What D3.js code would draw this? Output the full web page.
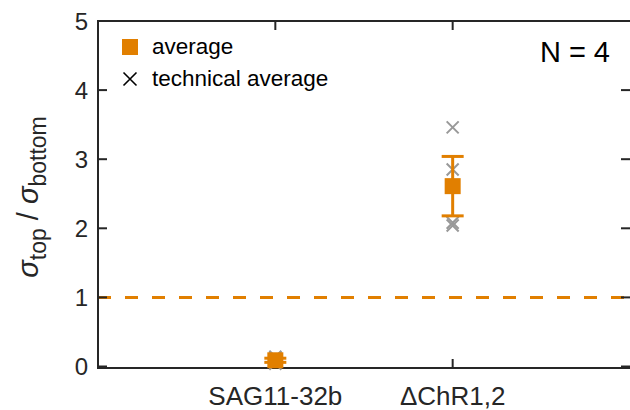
<!DOCTYPE html>
<html lang="en">
<head>
  <meta charset="UTF-8">
  <title>sigma ratio</title>
  <script src="https://d3js.org/d3.v7.min.js"></script>
  <style>
    body { margin: 0; padding: 0; background: #fff; }
    svg { display: block; font-family: Arial, "Liberation Sans", sans-serif; }
  </style>
</head>
<body>
  <div id="chart"></div>
  <script>
    const categories = ["SAG11-32b", "\u0394ChR1,2"];
    const averages = [0.09, 2.61];
    const errors = [0.03, 0.43];
    const technical = [
      [0.14, 0.13, 0.06, 0.04],
      [3.46, 2.85, 2.08, 2.04]
    ];
    const yTicks = [0, 1, 2, 3, 4, 5];
    const reference = 1;
    const orange = "#e17f00";
    const gray = "#999";
    const ink = "#262626";

    const W = 630, H = 410;
    const margin = { top: 21, right: 0, bottom: 42, left: 98 };
    const width = W - margin.left - margin.right;
    const height = H - margin.top - margin.bottom;

    const svg = d3.select("#chart").append("svg")
      .attr("width", W).attr("height", H);
    const g = svg.append("g")
      .attr("transform", `translate(${margin.left},${margin.top})`);

    const x = d3.scaleLinear().domain([0, 3]).range([0, width]);
    const y = d3.scaleLinear().domain([0, 5]).range([height - 1.5, 0]);
    const idx = categories.map((c, i) => i + 1);

    // reference line
    g.append("line")
      .attr("x1", 0).attr("x2", width)
      .attr("y1", y(reference)).attr("y2", y(reference))
      .attr("stroke", orange).attr("stroke-width", 3)
      .attr("stroke-dasharray", "13,14");

    // axes box
    g.append("rect")
      .attr("x", 0).attr("y", 0).attr("width", width + 2).attr("height", height)
      .attr("fill", "none").attr("stroke", ink).attr("stroke-width", 2);

    const tickLen = 9;
    const ticks = g.append("g").attr("stroke", ink).attr("stroke-width", 2);
    yTicks.forEach(t => {
      ticks.append("line").attr("x1", 0).attr("x2", tickLen).attr("y1", y(t)).attr("y2", y(t));
      ticks.append("line").attr("x1", width - tickLen).attr("x2", width).attr("y1", y(t)).attr("y2", y(t));
    });
    idx.forEach(t => {
      ticks.append("line").attr("x1", x(t)).attr("x2", x(t)).attr("y1", height).attr("y2", height - tickLen);
      ticks.append("line").attr("x1", x(t)).attr("x2", x(t)).attr("y1", 0).attr("y2", tickLen);
    });

    // technical averages
    const cross = (sel, s) => sel.append("path")
      .attr("d", `M${-s},${-s}L${s},${s}M${-s},${s}L${s},${-s}`);
    technical.forEach((vals, i) => {
      vals.forEach(v => {
        const p = g.append("g").attr("transform", `translate(${x(idx[i])},${y(v)})`);
        cross(p, 6).attr("stroke", gray).attr("stroke-width", 2).attr("fill", "none");
      });
    });

    // error bars
    averages.forEach((m, i) => {
      const cx = x(idx[i]);
      const e = errors[i];
      const eb = g.append("g").attr("stroke", orange).attr("stroke-width", 3);
      eb.append("line").attr("x1", cx).attr("x2", cx).attr("y1", y(m - e)).attr("y2", y(m + e));
      [m - e, m + e].forEach(v => eb.append("line")
        .attr("x1", cx - 11).attr("x2", cx + 11).attr("y1", y(v)).attr("y2", y(v)));
    });

    // averages
    g.selectAll("rect.avg").data(averages).join("rect")
      .attr("class", "avg")
      .attr("x", (d, i) => x(idx[i]) - 8)
      .attr("y", d => y(d) - 8)
      .attr("width", 16).attr("height", 16)
      .attr("fill", orange);

    g.selectAll("text.ytick").data(yTicks).join("text")
      .attr("class", "ytick")
      .attr("x", -10).attr("y", d => y(d))
      .attr("dy", "0.36em")
      .attr("text-anchor", "end")
      .attr("font-size", 24).attr("fill", ink)
      .text(d => d);

    g.selectAll("text.xtick").data(categories).join("text")
      .attr("class", "xtick")
      .attr("x", (d, i) => x(idx[i])).attr("y", height + 37)
      .attr("text-anchor", "middle")
      .attr("font-size", 26).attr("fill", ink)
      .text(d => d);

    // y label
    const yl = svg.append("text")
      .attr("transform", "translate(38,197) rotate(-90)")
      .attr("text-anchor", "middle")
      .attr("font-size", 29).attr("fill", ink);
    yl.append("tspan").attr("font-style", "italic").text("\u03c3");
    yl.append("tspan").attr("font-size", 23).attr("dy", 8).text("top");
    yl.append("tspan").attr("dy", -8).text(" / ");
    yl.append("tspan").attr("font-style", "italic").text("\u03c3");
    yl.append("tspan").attr("font-size", 23).attr("dy", 8).text("bottom");

    // legend
    const lg = svg.append("g").attr("font-size", 22.5).attr("fill", "#000");
    lg.append("rect").attr("x", 122).attr("y", 39).attr("width", 16).attr("height", 16).attr("fill", orange);
    lg.append("text").attr("x", 152).attr("y", 54).text("average");
    const lx = lg.append("g").attr("transform", "translate(130,79)");
    cross(lx, 6.5).attr("stroke", "#000").attr("stroke-width", 1.6).attr("fill", "none");
    lg.append("text").attr("x", 152).attr("y", 86).text("technical average");

    svg.append("text")
      .attr("x", 610).attr("y", 62)
      .attr("text-anchor", "end")
      .attr("font-size", 29).attr("fill", "#000")
      .text("N = 4");
  </script>
</body>
</html>
